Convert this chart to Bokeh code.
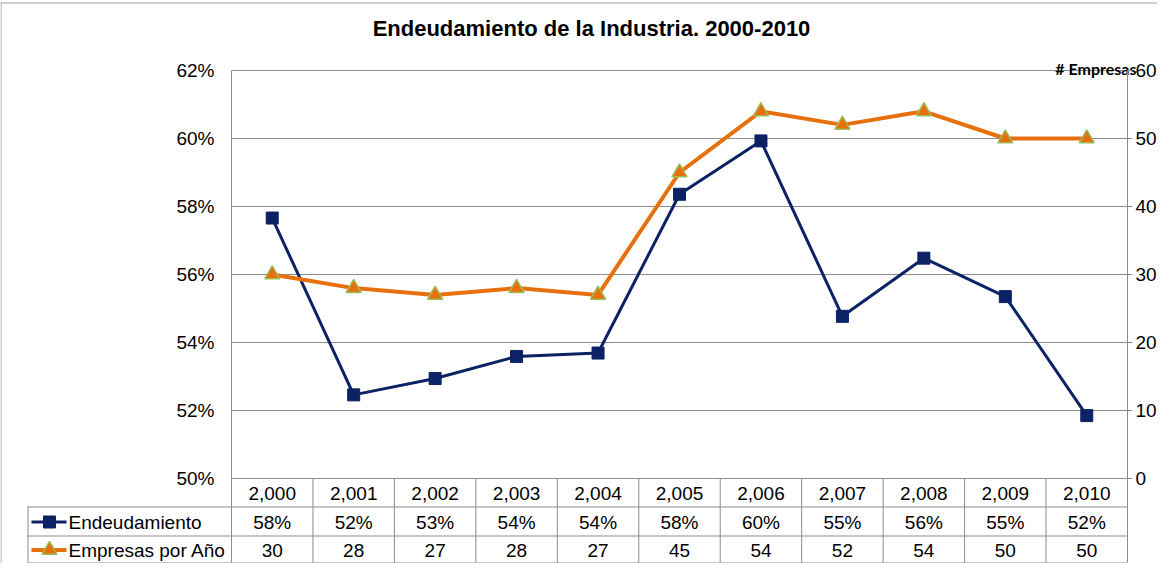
from bokeh.plotting import figure
from bokeh.models import LinearAxis, Range1d, FixedTicker, NumeralTickFormatter
from bokeh.core.properties import value
from bokeh.embed import file_html
from bokeh.resources import INLINE

# ---------------- data ----------------
years = [2000, 2001, 2002, 2003, 2004, 2005, 2006, 2007, 2008, 2009, 2010]
endeudamiento = [0.5766, 0.5246, 0.5294, 0.5359, 0.5369, 0.5836, 0.5993,
                 0.5477, 0.5648, 0.5535, 0.5185]
empresas = [30, 28, 27, 28, 27, 45, 54, 52, 54, 50, 50]
pct_ticks = [0.50, 0.52, 0.54, 0.56, 0.58, 0.60, 0.62]
emp_ticks = [0, 10, 20, 30, 40, 50, 60]
series_names = ["Endeudamiento", "Empresas por Año"]
title_text = "Endeudamiento de la Industria. 2000-2010"
right_axis_title = "# Empresas"

# ---------------- styles / layout ----------------
NAVY = "#0b2265"
ORANGE = "#e8700c"
TRI_EDGE = "#9bbb59"
GRID = "#8c8c8c"
BORDER = "#a0a0a0"
FONT = value("Liberation Sans")
FS = "19px"

W, H = 1157, 563
PLOT_L, PLOT_R = 231, 1127      # canvas px of plot area
PLOT_T, PLOT_B = 70, 478
ROWS = [478, 506, 535, 562]     # table row boundaries (canvas px)
TABLE_L = 27

n = len(years)
sx = (PLOT_R - PLOT_L) / n
x_start = -0.5 - PLOT_L / sx
x_end = x_start + W / sx
sy = (PLOT_B - PLOT_T) / (pct_ticks[-1] - pct_ticks[0])
y_end = pct_ticks[-1] + PLOT_T / sy
y_start = y_end - H / sy
sy2 = (PLOT_B - PLOT_T) / (emp_ticks[-1] - emp_ticks[0])
e_end = emp_ticks[-1] + PLOT_T / sy2
e_start = e_end - H / sy2


def X(px):
    return x_start + px / sx


def Y(py):
    return y_end - py / sy


p = figure(width=W, height=H, x_range=Range1d(x_start, x_end),
           y_range=Range1d(y_start, y_end), output_backend="svg",
           toolbar_location=None, x_axis_location=None, y_axis_location=None,
           min_border=0, title=None)
p.extra_y_ranges = {"emp": Range1d(e_start, e_end)}
p.outline_line_color = None
p.background_fill_color = "white"
p.border_fill_color = "white"
p.xgrid.visible = False
p.ygrid.visible = False

# axes
left = LinearAxis(fixed_location=-0.5, bounds=(pct_ticks[0], pct_ticks[-1]),
                  ticker=FixedTicker(ticks=pct_ticks),
                  formatter=NumeralTickFormatter(format="0%"),
                  major_tick_out=0, major_tick_in=0, minor_tick_out=0, minor_tick_in=0,
                  major_label_standoff=17, axis_line_color=GRID,
                  major_label_text_font="Liberation Sans",
                  major_label_text_font_size=FS, major_label_text_color="black")
p.add_layout(left, "left")

right = LinearAxis(y_range_name="emp", fixed_location=n - 0.5,
                   bounds=(emp_ticks[0], emp_ticks[-1]),
                   ticker=FixedTicker(ticks=emp_ticks),
                   major_tick_out=5, major_tick_in=0, minor_tick_out=0, minor_tick_in=0,
                   major_label_standoff=3, axis_line_color=GRID, major_tick_line_color=GRID,
                   major_label_text_font="Liberation Sans",
                   major_label_text_font_size=FS, major_label_text_color="black")
p.add_layout(right, "right")

# outer chart border (left/top visible part)
p.segment(x0=[X(0.5), X(0)], x1=[X(0.5), X(W)], y0=[Y(2), Y(2.5)], y1=[Y(H), Y(2.5)],
          line_color=BORDER, line_width=1)

# gridlines
p.segment(x0=-0.5, x1=n - 0.5, y0=pct_ticks, y1=pct_ticks, line_color=GRID, line_width=1)

# data table lines
bounds_x = [i - 0.5 for i in range(n + 1)]
p.segment(x0=bounds_x, x1=bounds_x, y0=Y(ROWS[0]), y1=Y(ROWS[-1]), line_color=GRID)
p.segment(x0=[X(TABLE_L + 0.5)], x1=[X(TABLE_L + 0.5)], y0=[Y(ROWS[1])], y1=[Y(ROWS[-1])],
          line_color=GRID)
p.segment(x0=X(TABLE_L), x1=n - 0.5, y0=[Y(r + 0.5) for r in ROWS[1:]],
          y1=[Y(r + 0.5) for r in ROWS[1:]], line_color=GRID)

# series
xs = list(range(n))
p.line(xs, endeudamiento, line_color=NAVY, line_width=3)
p.scatter(xs, endeudamiento, marker="square", size=12, fill_color=NAVY, line_color=NAVY)
p.line(xs, empresas, y_range_name="emp", line_color=ORANGE, line_width=4)
p.scatter(xs, empresas, y_range_name="emp", marker="triangle", size=15,
          fill_color=ORANGE, line_color=TRI_EDGE, line_width=1.5)

# title and secondary axis title
p.text(x=[X(591)], y=[Y(28)], text=[title_text], text_align="center", text_baseline="middle",
       text_font=FONT, text_font_size="22px", text_font_style="bold", text_color="black")
p.text(x=[X(1136)], y=[Y(68)], text=[right_axis_title], text_align="right",
       text_baseline="alphabetic", text_font=value("Lato"), text_font_size="16px",
       text_font_style="bold", text_color="black")

# table text
row_c = [(ROWS[i] + ROWS[i + 1]) / 2 + 1 for i in range(3)]
p.text(x=xs, y=[Y(row_c[0])] * n, text=[f"{y:,}" for y in years], text_align="center",
       text_baseline="middle", text_font=FONT, text_font_size=FS, text_color="black")
p.text(x=xs, y=[Y(row_c[1])] * n, text=[f"{round(v * 100)}%" for v in endeudamiento],
       text_align="center", text_baseline="middle", text_font=FONT, text_font_size=FS,
       text_color="black")
p.text(x=xs, y=[Y(row_c[2])] * n, text=[str(v) for v in empresas], text_align="center",
       text_baseline="middle", text_font=FONT, text_font_size=FS, text_color="black")

# legend keys in the table
p.segment(x0=[X(31)] * 2, x1=[X(66)] * 2, y0=[Y(row_c[1]), Y(row_c[2])],
          y1=[Y(row_c[1]), Y(row_c[2])], line_color=[NAVY, ORANGE], line_width=[3, 4])
p.scatter([X(49)], [Y(row_c[1])], marker="square", size=12, fill_color=NAVY, line_color=NAVY)
p.scatter([X(49)], [Y(row_c[2])], marker="triangle", size=15, fill_color=ORANGE,
          line_color=TRI_EDGE, line_width=1.5)
p.text(x=[X(68)] * 2, y=[Y(row_c[1]), Y(row_c[2])], text=series_names, text_align="left",
       text_baseline="middle", text_font=FONT, text_font_size=FS, text_color="black")

open("out.html", "w").write(file_html(p, INLINE))
